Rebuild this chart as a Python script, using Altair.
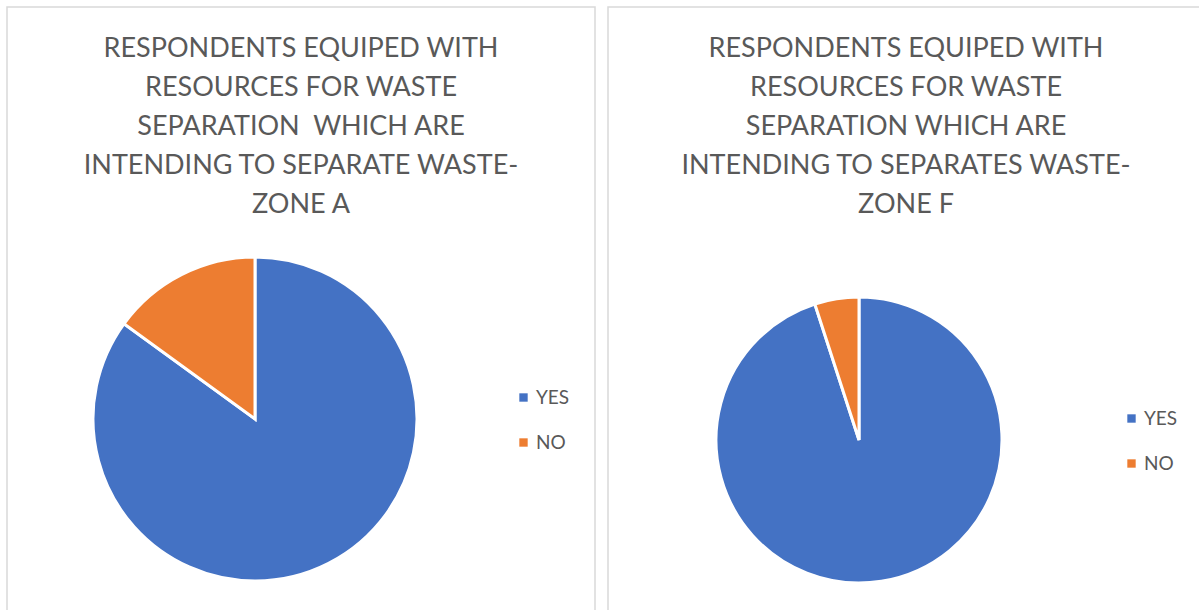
import altair as alt
import pandas as pd

categories = ["YES", "NO"]
zone_a_values = [85, 15]
zone_f_values = [95, 5]
order_idx = [0, 1]

title_a = ["RESPONDENTS EQUIPED WITH", "RESOURCES FOR WASTE", "SEPARATION\u00a0 WHICH ARE",
           "INTENDING TO SEPARATE WASTE-", "ZONE A"]
title_f = ["RESPONDENTS EQUIPED WITH", "RESOURCES FOR WASTE", "SEPARATION WHICH ARE",
           "INTENDING TO SEPARATES WASTE-", "ZONE F"]

BLUE = "#4472C4"
ORANGE = "#ED7D31"
GRAY = "#595959"
FONT = "Lato"

df_a = pd.DataFrame({"cat": categories, "value": zone_a_values, "idx": order_idx})
df_f = pd.DataFrame({"cat": categories, "value": zone_f_values, "idx": order_idx})
dummy = pd.DataFrame({"a": [0]})

def legend(x, y):
    return alt.Legend(orient="none", legendX=x, legendY=y, title=None,
                      symbolType="square", symbolSize=70, symbolStrokeWidth=0,
                      labelFontSize=19, labelColor=GRAY, labelFont=FONT,
                      rowPadding=25, labelOffset=3)

pie_a = alt.Chart(df_a).mark_arc(x=255, y=419, radius=162, stroke="white", strokeWidth=3).encode(
    theta=alt.Theta("value:Q", stack=True),
    color=alt.Color("cat:N", scale=alt.Scale(domain=categories, range=[BLUE, ORANGE]),
                    legend=legend(514, 388)),
    order=alt.Order("idx:Q"),
)

pie_f = alt.Chart(df_f).mark_arc(x=859, y=440, radius=143, stroke="white", strokeWidth=3).encode(
    theta=alt.Theta("value:Q", stack=True),
    fill=alt.Fill("cat:N", scale=alt.Scale(domain=categories, range=[BLUE, ORANGE]),
                  legend=legend(1122, 409)),
    order=alt.Order("idx:Q"),
)

border_a = alt.Chart(dummy).mark_rect(fill="white", stroke="#D9D9D9", strokeWidth=1.5).encode(
    x=alt.value(7), x2=alt.value(595), y=alt.value(7), y2=alt.value(640))
border_f = alt.Chart(dummy).mark_rect(fill="white", stroke="#D9D9D9", strokeWidth=1.5).encode(
    x=alt.value(608), x2=alt.value(1210), y=alt.value(7), y2=alt.value(640))

text_a = alt.Chart(dummy).mark_text(text=title_a, x=301, y=36, baseline="top", align="center",
                                    fontSize=27, lineHeight=39, font=FONT, color=GRAY).encode(
    opacity=alt.value(1))
text_f = alt.Chart(dummy).mark_text(text=title_f, x=906, y=36, baseline="top", align="center",
                                    fontSize=27, lineHeight=39, font=FONT, color=GRAY).encode(
    opacity=alt.value(1))

chart = alt.layer(border_a, border_f, text_a, text_f, pie_a, pie_f).resolve_scale(
    theta="independent", color="independent", fill="independent"
).properties(
    width=1199, height=610, padding=0, autosize=alt.AutoSizeParams(type="none"),
    background="white"
).configure_view(stroke=None)

chart.save("out.html", embed_options={"renderer": "svg", "actions": False})
